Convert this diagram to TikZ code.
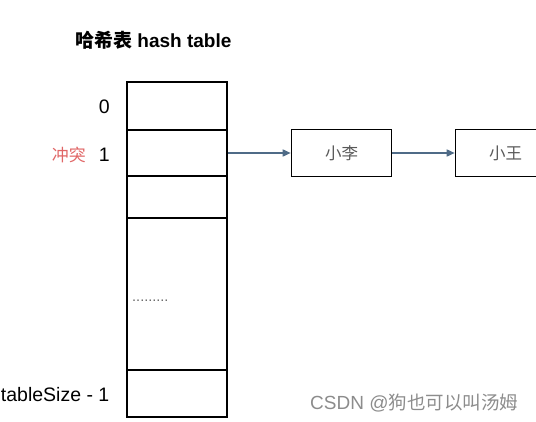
\documentclass[tikz,border=0pt]{standalone}
\usepackage{fontspec}
\setmainfont{Liberation Sans}
\newfontfamily\cjk{Noto Sans CJK SC}
\usepackage{xcolor}
\usetikzlibrary{arrows.meta,positioning}

\definecolor{linkblue}{HTML}{4F6B87}
\definecolor{clashred}{HTML}{E06666}

\tikzset{
  cell/.style={draw, line width=1.6pt, minimum width=100pt, inner sep=0pt},
  item/.style={draw, line width=1.6pt, minimum width=100pt, minimum height=47pt,
    inner sep=0pt, text=black!65, font=\fontsize{16.5}{18}\selectfont\cjk},
  link/.style={-{Triangle[length=8pt,width=7pt]}, line width=1.6pt, linkblue},
  idx/.style={font=\fontsize{19.5}{22}\selectfont, anchor=east, inner sep=0pt}
}

\begin{document}
\begin{tikzpicture}[x=1pt, y=-1pt]
			
			%====================
			% 1) 画布与裁剪
			%====================
			\useasboundingbox (0,0) rectangle (536,422);
			\clip (0,0) rectangle (536,422);
			
			%====================
			% 2) 标题
			%====================
			\node[anchor=west, inner sep=0pt] (title) at (75,40)
			  {\fontsize{19}{22}\selectfont\bfseries{\cjk 哈希表} hash table};
			
			%====================
			% 3) 哈希表的各个槽位（上下依次排列）
			%====================
			\node[cell, minimum height=48pt]  (slot0) at (177,106) {};
			\node[cell, minimum height=46pt]  (slot1) at (177,153) {};
			\node[cell, minimum height=42pt]  (slot2) at (177,197) {};
			\node[cell, minimum height=152pt] (slotm) at (177,294) {};
			\node[cell, minimum height=47pt]  (slotn) at (177,393.5) {};
			
			% 中间省略号
			\node[anchor=west, inner sep=0pt, text=black!60,
			  font=\fontsize{14.5}{16}\selectfont] (dots) at (132,301) {.........};
			
			%====================
			% 4) 下标标注
			%====================
			\node[idx] (n0) at (110,107) {0};
			\node[idx] (n1) at (110,155) {1};
			\node[idx] (nn) at (109.5,395) {tableSize - 1};
			\node[idx, text=clashred, font=\fontsize{17}{19}\selectfont\cjk]
			  (clash) at (86,155) {冲突};
			
			%====================
			% 5) 冲突链表：小李 -> 小王
			%====================
			\node[item] (li)   at (341.5,153) {小李};
			\node[item] (wang) at (505.5,153) {小王};
			
			\draw[link] (slot1.east) -- (li.west);
			\draw[link] (li.east) -- (wang.west);
			
			%====================
			% 6) 水印
			%====================
			\node[anchor=west, inner sep=0pt, text=black!45,
			  font=\fontsize{19}{21}\selectfont] (mark) at (310,403)
			  {CSDN @{\cjk\fontsize{18.5}{20}\selectfont 狗也可以叫汤姆}};
			
		\end{tikzpicture}
\end{document}
